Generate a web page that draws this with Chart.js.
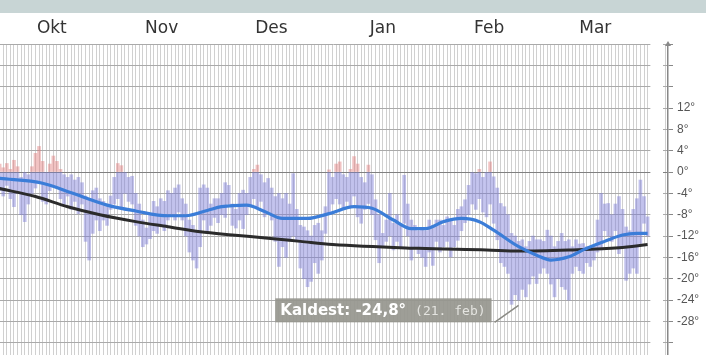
<!DOCTYPE html>
<html>
<head>
<meta charset="utf-8">
<script src="https://cdn.jsdelivr.net/npm/chart.js@4.4.1/dist/chart.umd.min.js"></script>
<style>
  html, body { margin: 0; padding: 0; background: #fff; }
  #wrap { position: relative; width: 706px; height: 355px; overflow: hidden; }
  #topbar { position: absolute; left: 0; top: 0; width: 706px; height: 13px; background: #c8d5d5; }
  canvas { position: absolute; left: 0; top: 0; }
</style>
</head>
<body>
<div id="wrap">
  <canvas id="chart" width="706" height="355"></canvas>
  <div id="topbar"></div>
</div>
<script>
// season 1 Oct - 31 Mar, one entry per day
const months = ['Okt', 'Nov', 'Des', 'Jan', 'Feb', 'Mar'];
const monthDays = [31, 30, 31, 31, 28, 31];
const shortMonths = ['jan', 'feb', 'mar', 'apr', 'mai', 'jun', 'jul', 'aug', 'sep', 'okt', 'nov', 'des'];

// daily max temperature
const dayHigh = [
  // okt
  1.5, 0.8, 1.6, 0.5, 2.2, 1.0, -1, 0, -0.5, 1, 3.5, 4.8, 2, 0, 1.5, 3, 2, 0.5, -0.5, -1,
  -0.5, -1.5, -1, -2, -4.5, -5, -3.5, -3, -5, -5.5, -6,
  // nov
  -4.5, -1, 1.6, 1.2, 0, -1, -0.8, -4, -6, -9, -10.5, -8, -5.5, -6.5, -5, -5.5, -3.5, -4, -3, -2.4,
  -5, -6, -9, -10, -11, -3, -2.4, -3, -6, -5,
  // des
  -5, -4, -2, -2.5, -6, -7, -4, -3.4, -4, -1, 0.5, 1.3, -0.5, -2, -1.2, -3, -4.6, -4, -5, -4,
  -6, -0.3, -7, -10, -10.3, -11, -12, -10, -9.6, -11, -6.5,
  // jan
  0.4, -1, 1.5, 1.9, -0.5, -1, 0.5, 2.9, 1.5, -1, -2, 1.3, -0.5, -5.2, -8, -11.5, -9, -4, -9.6, -8,
  -10, -0.6, -6, -9, -10, -11, -10.5, -11, -9, -10, -9,
  // feb
  -9, -10, -8.4, -9, -10, -7, -6.5, -5.2, -2.5, 0, -0.3, 0.5, -1, 0, 1.9, -0.9, -3, -5.9, -6.5, -8,
  -11.5, -12, -13, -12.7, -14, -13, -12, -12.7,
  // mar
  -12.7, -13, -10.9, -12, -14, -13, -11.5, -13, -12.7, -14, -12.7, -13.5, -13.4, -14, -14.6, -14, -9, -4, -6, -5.9,
  -8, -6, -4.6, -7, -10.3, -11, -7, -5, -1.5, -4.6, -8.4
];

// daily min temperature
const dayLow = [
  // okt
  -3.5, -4.5, -2.5, -5, -6.5, -4, -8, -9.3, -6, -4, -3, -2, -5.5, -6, -3.5, -2.5, -3, -5, -6, -4.5,
  -7, -5.5, -7.8, -6, -13, -16.5, -11.5, -9, -11, -9, -10,
  // nov
  -7, -6, -5, -6.5, -4, -5.5, -6, -10, -12, -14, -13.5, -12.5, -11, -11.5, -10, -11, -9, -8, -9, -7.5,
  -9, -12, -15, -16.5, -18, -14, -9, -11.5, -10, -8.5,
  // des
  -9.5, -8, -8.5, -6, -10, -10.5, -9, -10.6, -8, -6.5, -5, -6.5, -5.5, -8.4, -7.5, -9, -13, -17.7, -14, -16,
  -13, -12, -13, -18, -20, -21.5, -20.5, -17, -19, -16.5, -11.5,
  // jan
  -7.8, -6, -5, -6, -7, -5.5, -6.5, -4.5, -8.4, -9.6, -7, -5.9, -8, -12.7, -17, -14, -13, -12, -14.6, -13,
  -14, -9.6, -12, -16.5, -14, -15.3, -16, -17.7, -15, -17.5, -13,
  // feb
  -15, -14, -13, -15.9, -14, -12.8, -11, -9.5, -8, -6, -7, -5, -7.5, -8.4, -6, -9.6, -12.7, -17, -17.7, -19,
  -24.8, -23, -24, -22, -23.4, -21, -19.5, -20.9,
  // mar
  -19, -18, -19, -21, -23.4, -20, -21.5, -22, -24, -19, -17.7, -18.5, -19, -17, -17.7, -16.5, -15, -14.6, -11, -12,
  -13, -11, -15.3, -14, -20.3, -19, -18, -19, -13.4, -9.6, -12
];

// smoothed mean (blue), read at these day numbers
const meanDays = [0, 12, 20, 30, 38, 47, 52, 58, 62, 69, 74, 79, 86, 92, 99, 104, 110, 115, 119, 124, 129, 134, 138, 145, 150, 154, 159, 163, 169, 174, 178, 181];
const meanTemps = [-1.2, -2.1, -3.9, -6.2, -7.3, -8.2, -8.2, -7.2, -6.5, -6.2, -7.4, -8.7, -8.7, -7.8, -6.5, -6.8, -9, -10.6, -10.6, -9.3, -8.7, -9.3, -10.9, -14, -15.6, -16.5, -15.9, -14.6, -13, -11.8, -11.5, -11.5];

// normal (black)
const normalDays = [0, 10, 19, 28, 38, 47, 56, 65, 75, 84, 93, 117, 136, 145, 159, 173, 181];
const normalTemps = [-3.1, -4.6, -6.5, -8, -9.3, -10.25, -11.2, -11.8, -12.4, -13, -13.6, -14.3, -14.6, -14.8, -14.6, -14.2, -13.6];

const labelMax = 12, labelMin = -28;

Chart.defaults.font.family = '"Liberation Sans", Arial, sans-serif';

const totalDays = dayHigh.length;
const monthMid = [];
let start = 0;
monthDays.forEach(n => { monthMid.push(start + n / 2); start += n; });

const belowPts = dayLow.map((lo, i) => ({x: i + 0.5, y: [lo, Math.min(dayHigh[i], 0)]}));
const abovePts = [];
dayHigh.forEach((hi, i) => { if (hi > 0) abovePts.push({x: i + 0.5, y: [Math.max(dayLow[i], 0), hi]}); });
const meanPts = meanDays.map((d, k) => ({x: d + 0.5, y: meanTemps[k]}));
const normalPts = normalDays.map((d, k) => ({x: d + 0.5, y: normalTemps[k]}));

// blank strip between the grid and the right axis, plus the arrow on top of the axis
const gapPlugin = {
  id: 'gap',
  beforeDatasetsDraw(chart) {
    const {ctx, chartArea, scales} = chart;
    const x0 = scales.x.getPixelForValue(totalDays) + 1;
    ctx.save();
    ctx.fillStyle = '#fff';
    ctx.fillRect(x0, chartArea.top - 1, chartArea.right - 5 - x0, chartArea.bottom - chartArea.top + 2);
    const ax = chartArea.right, ay = chartArea.top - 3;
    ctx.fillStyle = '#888';
    ctx.beginPath();
    ctx.moveTo(ax, ay);
    ctx.lineTo(ax - 3, ay + 5);
    ctx.lineTo(ax + 3, ay + 5);
    ctx.closePath();
    ctx.fill();
    ctx.restore();
  }
};

// "Kaldest" label pointing at the coldest day
const coldPlugin = {
  id: 'cold',
  afterDatasetsDraw(chart) {
    const {ctx, scales} = chart;
    const i = dayLow.indexOf(Math.min(...dayLow));
    const px = scales.x.getPixelForValue(i + 0.5);
    const py = scales.y.getPixelForValue(dayLow[i]);
    const d = new Date(2009, 9, 1 + i);
    const t1 = 'Kaldest: ' + dayLow[i].toFixed(1).replace('.', ',') + '°';
    const t2 = '(' + d.getDate() + '. ' + shortMonths[d.getMonth()] + ')';
    ctx.save();
    ctx.font = 'bold 15px "DejaVu Sans"';
    const w1 = ctx.measureText(t1).width;
    ctx.font = '13px "DejaVu Sans Mono"';
    const w2 = ctx.measureText(t2).width;
    const right = px - 20, bottom = py + 18, h = 24;
    const left = right - (w1 + w2 + 20);
    ctx.strokeStyle = '#8a8a84';
    ctx.lineWidth = 1.5;
    ctx.beginPath();
    ctx.moveTo(right + 3, bottom);
    ctx.lineTo(px + 7, py + 1);
    ctx.stroke();
    ctx.fillStyle = 'rgba(150,150,142,0.92)';
    ctx.fillRect(left, bottom - h, right - left, h);
    ctx.textBaseline = 'middle';
    ctx.fillStyle = '#fff';
    ctx.font = 'bold 15px "DejaVu Sans"';
    ctx.fillText(t1, left + 5, bottom - h / 2 + 1);
    ctx.fillStyle = '#e4e4e0';
    ctx.font = '13px "DejaVu Sans Mono"';
    ctx.fillText(t2, left + 14 + w1, bottom - h / 2 + 1);
    ctx.restore();
  }
};

new Chart(document.getElementById('chart'), {
  data: {
    datasets: [
      {
        type: 'line', label: 'Snitt', data: meanPts,
        borderColor: '#3b7dd8', borderWidth: 3.2, pointRadius: 0,
        cubicInterpolationMode: 'monotone', order: 0
      },
      {
        type: 'line', label: 'Normal', data: normalPts,
        borderColor: '#2b2b2b', borderWidth: 3, pointRadius: 0,
        cubicInterpolationMode: 'monotone', order: 1
      },
      {
        type: 'bar', label: 'Under 0', data: belowPts, stack: 'temp',
        backgroundColor: 'rgba(125,125,215,0.48)', barThickness: 3, order: 2
      },
      {
        type: 'bar', label: 'Over 0', data: abovePts, stack: 'temp',
        backgroundColor: 'rgba(225,120,120,0.45)', barThickness: 3, order: 2
      }
    ]
  },
  options: {
    responsive: false,
    animation: false,
    devicePixelRatio: 1,
    layout: { padding: 0, autoPadding: false },
    plugins: { legend: { display: false }, tooltip: { enabled: false } },
    scales: {
      x: {
        type: 'linear', min: 1.1, max: 186.7,
        ticks: { display: false, stepSize: 1, includeBounds: false },
        grid: {
          color: c => (c.tick && c.tick.value > totalDays) ? 'rgba(0,0,0,0)' : '#d0d0d0',
          drawTicks: false
        },
        border: { display: false },
        afterFit: s => { s.height = 0; }
      },
      xTop: {
        type: 'linear', position: 'top', min: 1.1, max: 186.7,
        grid: { display: false, drawTicks: false },
        border: { display: false },
        ticks: {
          autoSkip: false, maxRotation: 0, padding: 5, color: '#333',
          font: { family: '"DejaVu Sans"', size: 17 },
          callback: (v, i) => months[i]
        },
        afterBuildTicks: s => { s.ticks = monthMid.map(v => ({value: v})); },
        afterFit: s => { s.height = 44; }
      },
      y: {
        position: 'right', min: -34.3, max: 24, stacked: false,
        ticks: {
          stepSize: 4, includeBounds: false, padding: 4, color: '#555',
          font: { size: 12 },
          callback: v => (v <= labelMax && v >= labelMin) ? v + '°' : ''
        },
        grid: {
          color: c => (c.tick && c.tick.value === 0) ? '#808080' : '#aaaaaa',
          tickColor: '#888', tickLength: 5
        },
        border: { color: '#888', width: 1.5 },
        afterFit: s => { s.width = 38; s.paddingTop = 0; s.paddingBottom = 0; }
      }
    }
  },
  plugins: [gapPlugin, coldPlugin]
});
</script>
</body>
</html>
